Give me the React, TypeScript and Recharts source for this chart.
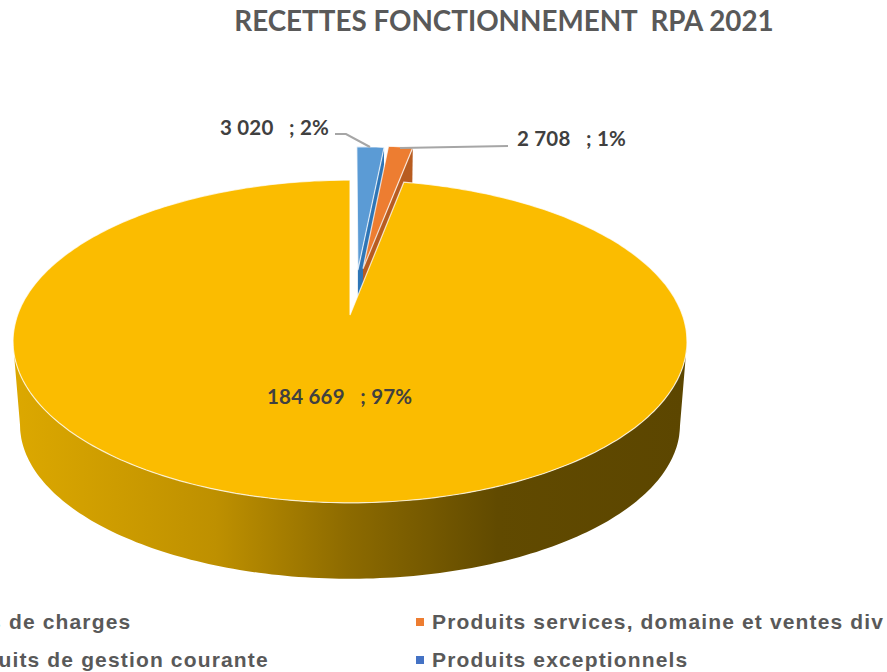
import { Legend, Pie, PieChart } from "recharts";

const NAMES = [
  "Frais de charges",
  "Produits services, domaine et ventes div",
  "Produits de gestion courante",
  "Produits exceptionnels",
];
const VALUES = [3020, 2708, 184669, 0];
const COLORS = ["#5B9BD5", "#ED7D31", "#FBBC00", "#4472C4"];
const WALLS = ["#2E75B6", "#B85C20", "url(#rimShade)", "#2F5597"];

// how far each slice is pulled out of the pie, in pie radii (sideways, backwards)
const EXPLODE = [
  [0.025, 0.3],
  [0.041, 0.31],
  [0, 0],
  [0, 0],
];
const LABEL_SPOTS = [
  { x: 220, y: 135, line: "M335 134 L346 134 L370 147" },
  { x: 517, y: 146, line: "M400 148 L508 146" },
  { x: 267, y: 404, line: "" },
  { x: 0, y: 0, line: "" },
];

const TILT = 0.164; // perspective foreshortening
const TOP_B = 157;
const BOTTOM_A = 325.5;
const BOTTOM_B = 149.7;
const DEPTH = 84.7;
const FRONT_FROM = 99.4; // angle where the rim leaves the silhouette

const pieData = NAMES.map((name, i) => ({ name, value: VALUES[i], fill: COLORS[i] }));

const rad = (d: number) => (d * Math.PI) / 180;

function project(cx: number, cy: number, a: number, b: number, u: number, v: number) {
  const w = 1 + TILT * v;
  return `${(cx + (a * u) / w).toFixed(1)} ${(cy - (b * v) / w).toFixed(1)}`;
}

function SliceShape(props: any) {
  const { cx, cy, outerRadius, startAngle, endAngle, fill, index } = props;
  if (Math.abs(startAngle - endAngle) < 0.01) return <g />;
  const [du, dv] = EXPLODE[index];
  // clockwise from 12 o'clock
  const from = 90 - startAngle;
  const to = 90 - endAngle;

  const top = (deg: number, r = 1) =>
    project(cx, cy, outerRadius, TOP_B, r * Math.sin(rad(deg)) + du, r * Math.cos(rad(deg)) + dv);
  const bottom = (deg: number, r = 1) =>
    project(cx, cy + DEPTH, BOTTOM_A, BOTTOM_B, r * Math.sin(rad(deg)) + du, r * Math.cos(rad(deg)) + dv);

  const rim: string[] = [];
  for (let d = from; d < to; d += 1) rim.push(top(d));
  rim.push(top(to));

  // outer wall, only the part that faces the viewer
  const frontFrom = Math.max(from, FRONT_FROM);
  const frontTo = Math.min(to, 360 - FRONT_FROM);
  const outer: string[] = [];
  if (frontTo > frontFrom) {
    for (let d = frontFrom; d <= frontTo; d += 1) outer.push(top(d));
    for (let d = frontTo; d >= frontFrom; d -= 1) outer.push(bottom(d));
  }

  const cut = `M${top(to, 0)} L${top(to)} L${bottom(to)} L${bottom(to, 0)} Z`;

  return (
    <g>
      {index !== 2 && <path d={cut} fill={WALLS[index]} />}
      {outer.length > 0 && <path d={`M${outer.join(" L")} Z`} fill={WALLS[index]} />}
      <path
        d={`M${top(from, 0)} L${rim.join(" L")} Z`}
        fill={fill}
        stroke="#ffffff"
        strokeOpacity={0.75}
        strokeWidth={1.2}
      />
    </g>
  );
}

function sliceLabel(props: any) {
  const { index, value, percent } = props;
  if (!value) return null;
  const spot = LABEL_SPOTS[index];
  const amount = String(value).replace(/\B(?=(\d{3})+$)/g, "\u00a0");
  return (
    <g key={index}>
      {spot.line && <path d={spot.line} fill="none" stroke="#A6A6A6" strokeWidth={2} />}
      <text
        x={spot.x}
        y={spot.y}
        fill="#404040"
        stroke="none"
        textAnchor="start"
        fontFamily="Lato, sans-serif"
        fontWeight={700}
        fontSize={20.5}
        letterSpacing={0.2}
      >
        {`${amount}\u00a0\u00a0\u00a0; ${Math.round(percent * 100)}%`}
      </text>
    </g>
  );
}

function LegendGrid({ payload }: any) {
  return (
    <div style={{ display: "grid", gridTemplateColumns: "486px 465px", rowGap: 14 }}>
      {(payload ?? []).map((item: any) => (
        <div key={item.value} style={{ display: "flex", alignItems: "center", height: 24, whiteSpace: "nowrap" }}>
          <span style={{ width: 8, height: 8, background: item.color, marginRight: 8, flex: "none" }} />
          <span
            style={{
              color: "#595959",
              fontFamily: "Liberation Sans, Arial, sans-serif",
              fontWeight: 700,
              fontSize: 21,
              letterSpacing: 1.15,
            }}
          >
            {item.value}
          </span>
        </div>
      ))}
    </div>
  );
}

export default function App() {
  return (
    <div style={{ position: "absolute", left: 0, top: 0, width: 887, height: 672 }}>
      <PieChart width={887} height={672} margin={{ top: 0, right: 0, bottom: 0, left: 0 }}>
        <defs>
          <linearGradient id="rimShade" gradientUnits="userSpaceOnUse" x1="15" y1="0" x2="685" y2="0">
            <stop offset="0" stopColor="#DCA800" />
            <stop offset="0.3" stopColor="#BE9000" />
            <stop offset="0.5" stopColor="#8C6A00" />
            <stop offset="0.72" stopColor="#614A00" />
            <stop offset="1" stopColor="#5C4600" />
          </linearGradient>
        </defs>
        <text
          x={504}
          y={31}
          textAnchor="middle"
          fill="#595959"
          fontFamily="Lato, sans-serif"
          fontWeight={700}
          fontSize={27.8}
        >
          {"RECETTES FONCTIONNEMENT\u00a0\u00a0RPA 2021"}
        </text>
        <Pie
          data={pieData}
          dataKey="value"
          nameKey="name"
          cx={350}
          cy={315}
          outerRadius={332.4}
          startAngle={90}
          endAngle={-270}
          stroke="none"
          shape={SliceShape}
          label={sliceLabel}
          labelLine={false}
          isAnimationActive={false}
        />
        <Legend
          layout="horizontal"
          verticalAlign="middle"
          align="center"
          itemSorter={null}
          content={<LegendGrid />}
          wrapperStyle={{ left: -70, top: 610, width: 951, height: 62 }}
        />
      </PieChart>
    </div>
  );
}
